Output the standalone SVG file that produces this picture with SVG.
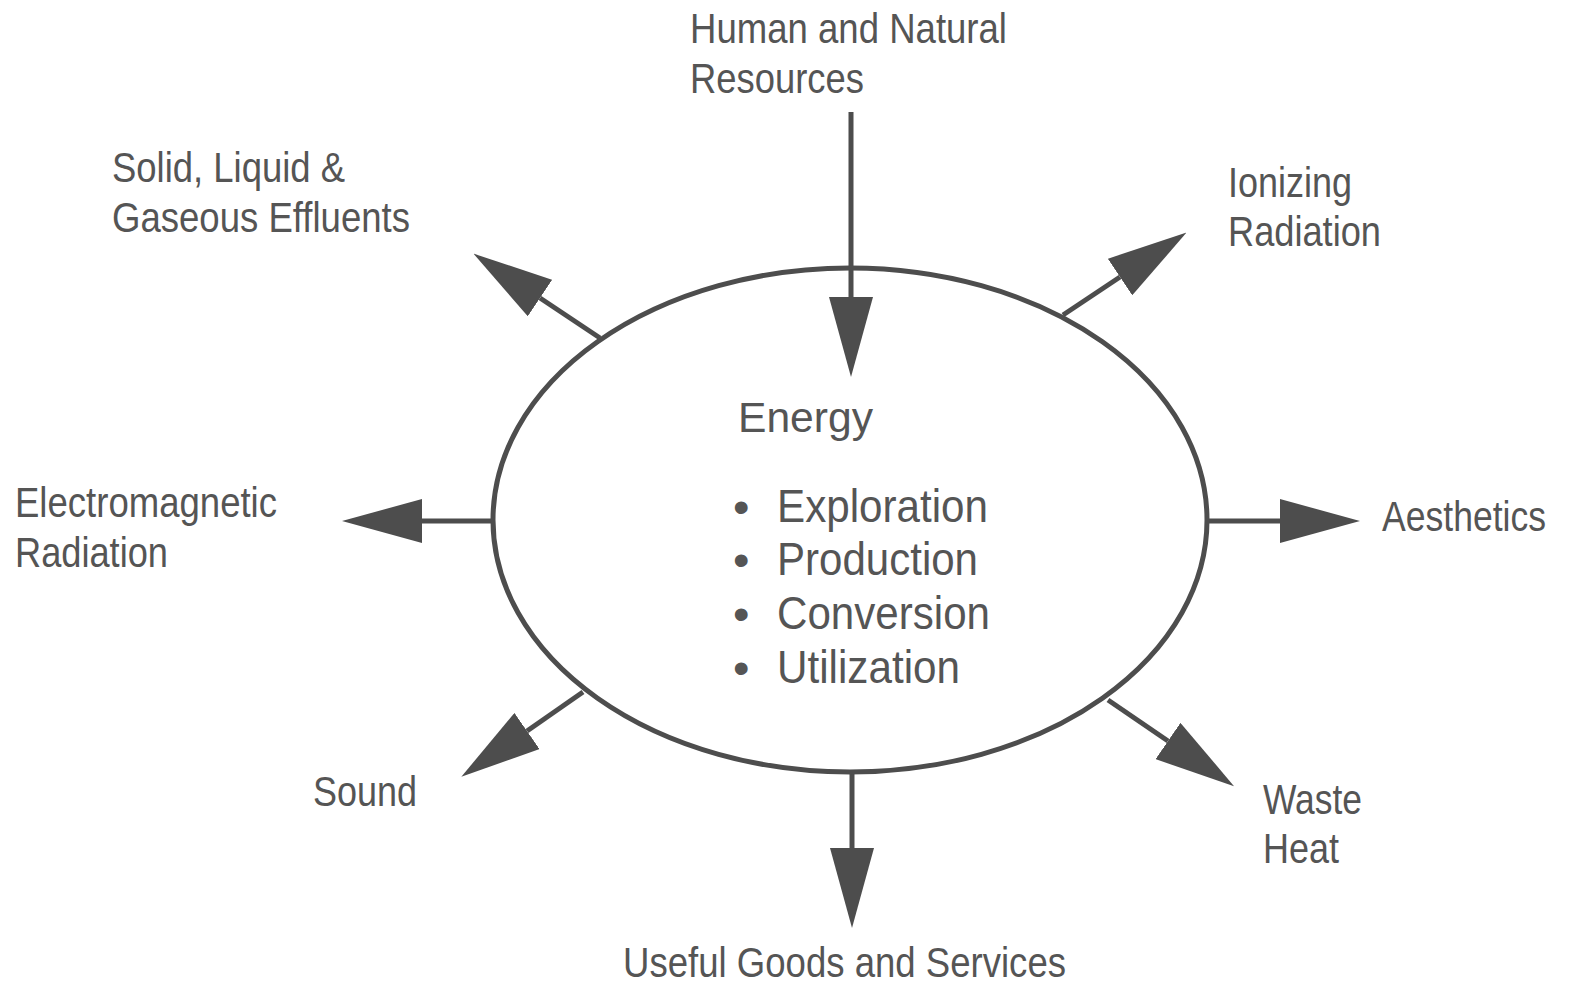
<svg xmlns="http://www.w3.org/2000/svg" width="1571" height="985" viewBox="0 0 1571 985">
<style>
.lbl{font-family:"Liberation Sans",Arial,sans-serif;font-size:42px;fill:#555555}
.item{font-family:"Liberation Sans",Arial,sans-serif;font-size:47px;fill:#555555}
.ln{stroke:#4d4d4d;stroke-width:5;fill:none}
</style>
<defs>
<marker id="ah" viewBox="0 0 80 44" refX="0" refY="22" markerWidth="80" markerHeight="44" markerUnits="userSpaceOnUse" orient="auto">
<path d="M0,0 L80,22 L0,44 Z" fill="#4d4d4d"/>
</marker>
</defs>
<rect width="1571" height="985" fill="#ffffff"/>
<g id="connectors">
<line class="ln" x1="851" y1="112" x2="851" y2="297" marker-end="url(#ah)"/>
<line class="ln" x1="852" y1="772" x2="852" y2="848" marker-end="url(#ah)"/>
<line class="ln" x1="495" y1="521" x2="422" y2="521" marker-end="url(#ah)"/>
<line class="ln" x1="1205" y1="521" x2="1280" y2="521" marker-end="url(#ah)"/>
<line class="ln" x1="600" y1="338" x2="540" y2="298" marker-end="url(#ah)"/>
<line class="ln" x1="1063" y1="315" x2="1120" y2="277" marker-end="url(#ah)"/>
<line class="ln" x1="583" y1="692" x2="527" y2="731" marker-end="url(#ah)"/>
<line class="ln" x1="1108" y1="700" x2="1168" y2="741" marker-end="url(#ah)"/>
</g>
<g id="energy">
<ellipse cx="850" cy="520" rx="357" ry="252" fill="none" stroke="#4d4d4d" stroke-width="5"/>
<text class="lbl" x="738" y="432" textLength="135" lengthAdjust="spacingAndGlyphs">Energy</text>
<text class="item" x="733" y="523" font-size="52">•</text>
<text class="item" x="777" y="522" textLength="211" lengthAdjust="spacingAndGlyphs">Exploration</text>
<text class="item" x="733" y="576" font-size="52">•</text>
<text class="item" x="777" y="575" textLength="201" lengthAdjust="spacingAndGlyphs">Production</text>
<text class="item" x="733" y="630" font-size="52">•</text>
<text class="item" x="777" y="629" textLength="213" lengthAdjust="spacingAndGlyphs">Conversion</text>
<text class="item" x="733" y="684" font-size="52">•</text>
<text class="item" x="777" y="683" textLength="183" lengthAdjust="spacingAndGlyphs">Utilization</text>
</g>
<g id="resources">
<text class="lbl" x="690" y="43" textLength="317" lengthAdjust="spacingAndGlyphs">Human and Natural</text>
<text class="lbl" x="690" y="93" textLength="174" lengthAdjust="spacingAndGlyphs">Resources</text>
</g>
<g id="effluents">
<text class="lbl" x="112" y="182" textLength="233" lengthAdjust="spacingAndGlyphs">Solid, Liquid &amp;</text>
<text class="lbl" x="112" y="232" textLength="298" lengthAdjust="spacingAndGlyphs">Gaseous Effluents</text>
</g>
<g id="ionizing">
<text class="lbl" x="1228" y="197" textLength="124" lengthAdjust="spacingAndGlyphs">Ionizing</text>
<text class="lbl" x="1228" y="246" textLength="153" lengthAdjust="spacingAndGlyphs">Radiation</text>
</g>
<g id="electromagnetic">
<text class="lbl" x="15" y="517" textLength="262" lengthAdjust="spacingAndGlyphs">Electromagnetic</text>
<text class="lbl" x="15" y="567" textLength="153" lengthAdjust="spacingAndGlyphs">Radiation</text>
</g>
<g id="aesthetics">
<text class="lbl" x="1382" y="531" font-size="37" textLength="164" lengthAdjust="spacingAndGlyphs">Aesthetics</text>
</g>
<g id="sound">
<text class="lbl" x="313" y="806" textLength="104" lengthAdjust="spacingAndGlyphs">Sound</text>
</g>
<g id="wasteheat">
<text class="lbl" x="1263" y="814" textLength="99" lengthAdjust="spacingAndGlyphs">Waste</text>
<text class="lbl" x="1263" y="863" textLength="76" lengthAdjust="spacingAndGlyphs">Heat</text>
</g>
<g id="goods">
<text class="lbl" x="623" y="977" textLength="443" lengthAdjust="spacingAndGlyphs">Useful Goods and Services</text>
</g>
</svg>
